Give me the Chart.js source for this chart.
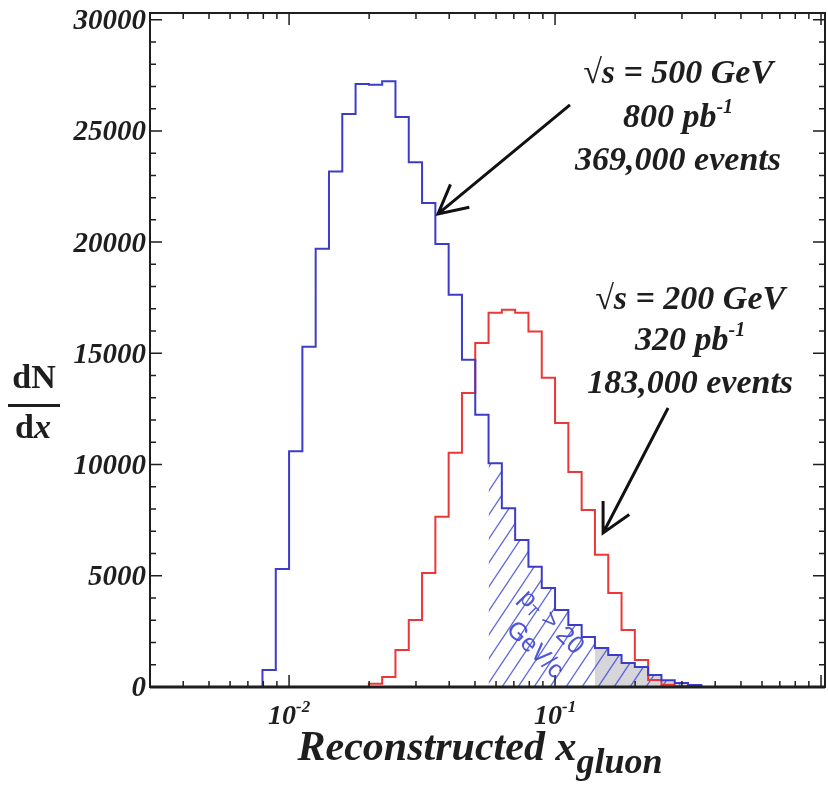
<!DOCTYPE html>
<html>
<head>
<meta charset="utf-8">
<script src="https://cdn.jsdelivr.net/npm/chart.js@4.4.0/dist/chart.umd.min.js"></script>
<style>
  html, body { margin: 0; padding: 0; background: #fff; }
</style>
</head>
<body>
<canvas id="myChart" width="828" height="794"></canvas>
<script>
var ctx = document.getElementById('myChart').getContext('2d');

//bins are 0.05 wide in log10(x)
var binWidth = 0.05
//500 GeV sample, first bin starts at log10(x) = -2.10
var blueStart = -2.10
var blueCounts = [765, 5300, 10600, 15300, 19700, 23180, 25760, 27110, 27080, 27230,
  25630, 23590, 21760, 19910, 17630, 14710, 12240, 10060, 8040, 6610,
  5410, 4450, 3460, 2790, 2250, 1750, 1440, 1080, 900, 540, 300, 180, 90]
//200 GeV sample, first bin starts at log10(x) = -1.90
var redStart = -1.90
var redCounts = [0, 0, 0, 0, 150, 450, 1660, 3010, 5130, 7650,
  10530, 13220, 15470, 16820, 16960, 16820, 15980, 13900, 11870, 9670,
  7960, 5940, 4230, 2560, 1210, 310, 100, 30]
//pT > 20 GeV/c part of the 500 GeV sample (hatched) and the grey bit
var hatchFrom = -1.25
var greyFrom = -0.85

//tick labels
var yTicks = [0, 5000, 10000, 15000, 20000, 25000, 30000]
var xTickPowers = [-2, -1]

//turns bin counts into points for a stepped line (left edge of every bin)
function stepPoints(start, counts) {
  var pts = [{x: Math.pow(10, start), y: 0}]
  for (var i = 0; i < counts.length; i++) {
    pts.push({x: Math.pow(10, start + i * binWidth), y: counts[i]})
  }
  pts.push({x: Math.pow(10, start + counts.length * binWidth), y: 0})
  return pts
}

function fromBin(start) {
  return blueCounts.slice(Math.round((start - blueStart) / binWidth))
}

//diagonal blue hatching
function hatchPattern() {
  var c = document.createElement('canvas')
  c.width = 16
  c.height = 24
  var g = c.getContext('2d')
  g.strokeStyle = 'rgba(70,80,215,0.85)'
  g.lineWidth = 1.3
  g.beginPath()
  for (var s = -16; s <= 16; s += 16) {
    g.moveTo(s - 8, 36)
    g.lineTo(s + 24, -12)
  }
  g.stroke()
  return ctx.createPattern(c, 'repeat')
}

var serif = '"Liberation Serif", "Times New Roman", serif'
function bi(size) { return 'italic bold ' + size + 'px ' + serif }

//text with superscripts / subscripts, parts = [[text, kind]]
function richText(c, parts, x, y, size, align) {
  var w = 0
  parts.forEach(function(p) {
    c.font = p[1] ? bi(Math.round(size * (p[1] === 'sub' ? 0.85 : 0.6))) : bi(size)
    w += c.measureText(p[0]).width
  })
  var cx = align === 'center' ? x - w / 2 : x
  parts.forEach(function(p) {
    c.font = p[1] ? bi(Math.round(size * (p[1] === 'sub' ? 0.85 : 0.6))) : bi(size)
    var dy = p[1] === 'sup' ? -size * 0.42 : (p[1] === 'sub' ? size * 0.32 : 0)
    c.fillText(p[0], cx, y + dy)
    cx += c.measureText(p[0]).width
  })
}

function arrow(c, x1, y1, x2, y2) {
  var ang = Math.atan2(y1 - y2, x1 - x2)
  c.beginPath()
  c.moveTo(x1, y1)
  c.lineTo(x2, y2)
  c.moveTo(x2 + 32 * Math.cos(ang - 0.48), y2 + 32 * Math.sin(ang - 0.48))
  c.lineTo(x2, y2)
  c.lineTo(x2 + 32 * Math.cos(ang + 0.48), y2 + 32 * Math.sin(ang + 0.48))
  c.stroke()
}

//frame, inward ticks, labels and the notes
var decorations = {
  id: 'decorations',
  afterDatasetsDraw: function(chart) {
    var c = chart.ctx
    var a = chart.chartArea
    var xs = chart.scales.x
    var ys = chart.scales.y
    c.save()
    c.strokeStyle = '#1e1e1e'
    c.fillStyle = '#1e1e1e'
    c.lineWidth = 2
    c.strokeRect(a.left, a.top, a.right - a.left, a.bottom - a.top)
    c.lineWidth = 3
    c.beginPath()
    c.moveTo(a.left, a.bottom)
    c.lineTo(a.right, a.bottom)
    c.stroke()

    //y ticks on both sides
    c.lineWidth = 1.5
    c.beginPath()
    for (var v = 0; v <= 30000; v += 1000) {
      var py = ys.getPixelForValue(v)
      var len = v % 5000 === 0 ? 12 : 6
      c.moveTo(a.left, py); c.lineTo(a.left + len, py)
      c.moveTo(a.right, py); c.lineTo(a.right - len, py)
    }
    //log x ticks top and bottom
    for (var n = -3; n <= 0; n++) {
      for (var m = 1; m <= 9; m++) {
        var xv = m * Math.pow(10, n)
        if (xv < xs.min || xv > xs.max) continue
        var px = xs.getPixelForValue(xv)
        var l = m === 1 ? 12 : 6
        c.moveTo(px, a.bottom); c.lineTo(px, a.bottom - l)
        c.moveTo(px, a.top); c.lineTo(px, a.top + l)
      }
    }
    c.stroke()

    //y tick labels
    c.font = bi(29)
    c.textAlign = 'right'
    c.textBaseline = 'middle'
    yTicks.forEach(function(t) {
      c.fillText(String(t), a.left - 4, ys.getPixelForValue(t) + 2)
    })

    //x tick labels
    c.textAlign = 'left'
    c.textBaseline = 'alphabetic'
    xTickPowers.forEach(function(p) {
      richText(c, [['10', ''], [String(p), 'sup']], xs.getPixelForValue(Math.pow(10, p)), a.bottom + 37, 28, 'center')
    })

    //axis titles
    richText(c, [['Reconstructed x', ''], ['gluon', 'sub']], 480, 760, 42, 'center')
    c.textAlign = 'center'
    c.font = 'bold 34px ' + serif
    c.fillText('dN', 34, 388)
    c.fillRect(8, 404, 52, 3)
    var wd = c.measureText('d').width
    c.font = bi(34)
    var wx = c.measureText('x').width
    c.textAlign = 'left'
    c.font = 'bold 34px ' + serif
    c.fillText('d', 33 - (wd + wx) / 2, 438)
    c.font = bi(34)
    c.fillText('x', 33 - (wd + wx) / 2 + wd, 438)

    //notes
    var n1x = xs.getPixelForValue(0.29), n1y = ys.getPixelForValue(27150)
    richText(c, [['\u221As = 500 GeV', '']], n1x, n1y, 34, 'center')
    richText(c, [['800 pb', ''], ['-1', 'sup']], n1x, n1y + 44, 34, 'center')
    richText(c, [['369,000 events', '']], n1x, n1y + 87, 34, 'center')
    var n2x = xs.getPixelForValue(0.322), n2y = ys.getPixelForValue(16990)
    richText(c, [['\u221As = 200 GeV', '']], n2x, n2y, 34, 'center')
    richText(c, [['320 pb', ''], ['-1', 'sup']], n2x, n2y + 41, 34, 'center')
    richText(c, [['183,000 events', '']], n2x, n2y + 84, 34, 'center')

    c.lineWidth = 3
    c.strokeStyle = '#111'
    arrow(c, xs.getPixelForValue(0.1138), ys.getPixelForValue(26170), xs.getPixelForValue(0.0363), ys.getPixelForValue(21270))
    arrow(c, xs.getPixelForValue(0.266), ys.getPixelForValue(12545), xs.getPixelForValue(0.1516), ys.getPixelForValue(6925))

    //pT cut label inside the hatched part
    c.translate(xs.getPixelForValue(0.0966), ys.getPixelForValue(2900))
    c.rotate(Math.PI / 4)
    c.fillStyle = 'rgba(60,70,205,0.9)'
    c.textBaseline = 'middle'
    c.textAlign = 'left'
    c.font = '25px "Liberation Sans", sans-serif'
    var w1 = c.measureText('p').width
    c.font = '16px "Liberation Sans", sans-serif'
    var w2 = c.measureText('T').width
    c.font = '25px "Liberation Sans", sans-serif'
    var w3 = c.measureText(' > 20').width
    var sx = -(w1 + w2 + w3) / 2
    c.fillText('p', sx, 0)
    c.font = '16px "Liberation Sans", sans-serif'
    c.fillText('T', sx + w1, 6)
    c.font = '25px "Liberation Sans", sans-serif'
    c.fillText(' > 20', sx + w1 + w2, 0)
    c.textAlign = 'center'
    c.fillText('GeV/c', 8, 31)
    c.restore()
  }
}

var myChart = new Chart(ctx, {
  type: 'line',
  data: {
    datasets: [{
      label: '500 GeV',
      data: stepPoints(blueStart, blueCounts),
      borderColor: 'rgb(60,60,200)',
      borderWidth: 2,
      stepped: true,
      fill: false,
      pointRadius: 0,
      order: 1
    },
    {
      label: '200 GeV',
      data: stepPoints(redStart, redCounts),
      borderColor: 'rgb(235,55,55)',
      borderWidth: 2,
      stepped: true,
      fill: false,
      pointRadius: 0,
      order: 2
    },
    {
      label: 'pT > 20 GeV/c',
      data: stepPoints(hatchFrom, fromBin(hatchFrom)),
      borderColor: 'transparent',
      borderWidth: 0,
      backgroundColor: hatchPattern(),
      stepped: true,
      fill: 'origin',
      pointRadius: 0,
      order: 3
    },
    {
      label: 'grey',
      data: stepPoints(greyFrom, fromBin(greyFrom)),
      borderColor: 'transparent',
      borderWidth: 0,
      backgroundColor: 'rgba(200,200,205,0.75)',
      stepped: true,
      fill: 'origin',
      pointRadius: 0,
      order: 4
    }]
  },
  options: {
    responsive: false,
    animation: false,
    layout: {
      padding: {left: 150, top: 13, right: 3, bottom: 107}
    },
    scales: {
      x: {type: 'logarithmic', min: 0.003, max: 1.035, display: false},
      y: {type: 'linear', min: 0, max: 30300, display: false}
    },
    elements: {
      line: {tension: 0}
    },
    plugins: {
      legend: {display: false},
      tooltip: {enabled: false}
    }
  },
  plugins: [decorations]
});
</script>
</body>
</html>
